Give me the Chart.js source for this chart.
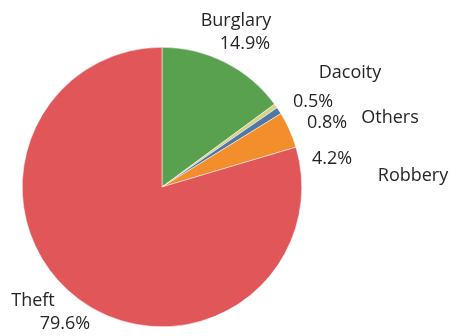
<!DOCTYPE html>
<html>
<head>
<meta charset="utf-8">
<script src="https://cdn.jsdelivr.net/npm/chart.js@4/dist/chart.umd.min.js"></script>
<style>
  html, body { margin: 0; padding: 0; background: #fff; }
  #wrap { width: 452px; height: 336px; position: relative; }
</style>
</head>
<body>
<div id="wrap"><canvas id="crimeChart"></canvas></div>
<script>
// Datos
const categories = ['Burglary', 'Dacoity', 'Others', 'Robbery', 'Theft'];
const shares = [14.9, 0.5, 0.8, 4.2, 79.6];
const sliceColors = ['#59A14F', '#D6D27E', '#4E79A7', '#F28E2B', '#E15759'];

// Posición de las etiquetas respecto al centro del pastel (px, línea base)
const namePos = [[74, -161], [188, -109], [228, -64], [251, -6], [-129, 119]];
const pctPos = [[83, -138], [151, -80], [165, -59], [170, -23], [-97, 142]];

const labelPlugin = {
    id: 'sliceLabels',
    afterDatasetsDraw(chart) {
        const ctx = chart.ctx;
        const arcs = chart.getDatasetMeta(0).data;
        const cx = arcs[0].x, cy = arcs[0].y;
        ctx.save();
        ctx.fillStyle = '#262626';
        ctx.font = '18px "Open Sans", sans-serif';
        ctx.textAlign = 'center';
        ctx.textBaseline = 'alphabetic';
        categories.forEach((name, i) => {
            ctx.fillText(name, cx + namePos[i][0], cy + namePos[i][1]);
            ctx.fillText(shares[i].toFixed(1) + '%', cx + pctPos[i][0], cy + pctPos[i][1]);
        });
        ctx.restore();
    }
};

new Chart(document.getElementById('crimeChart').getContext('2d'), {
    type: 'pie',
    data: {
        labels: categories,
        datasets: [{
            data: shares,
            backgroundColor: sliceColors,
            borderColor: '#ffffff',
            borderWidth: 0.5
        }]
    },
    options: {
        responsive: true,
        maintainAspectRatio: false,
        animation: false,
        layout: { padding: { left: 22, top: 47, right: 150, bottom: 9 } },
        plugins: {
            legend: { display: false },
            tooltip: { enabled: false }
        }
    },
    plugins: [labelPlugin]
});
</script>
</body>
</html>
